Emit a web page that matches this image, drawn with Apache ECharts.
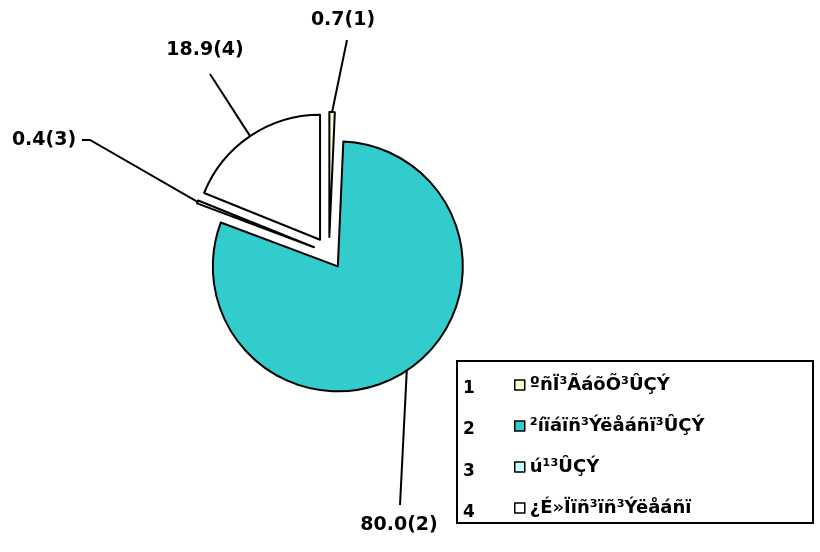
<!DOCTYPE html>
<html>
<head>
<meta charset="utf-8">
<script src="https://cdn.jsdelivr.net/npm/echarts@6/dist/echarts.min.js"></script>
<style>html,body{margin:0;padding:0;background:#fff}#c{width:820px;height:552px}</style>
</head>
<body>
<div id="c"></div>
<script>
const categories = ["ºñÏ³ÃáõÕ³ÛÇÝ", "²íïáïñ³Ýëåáñï³ÛÇÝ", "ú¹³ÛÇÝ", "¿É»Ïïñ³ïñ³Ýëåáñï"];
const indexLabels = ["1", "2", "3", "4"];
const values = [0.7, 80.0, 0.4, 18.9];
const colors = ["#FFFFCC", "#33CCCC", "#CCFFFF", "#FFFFFF"];
// label placement (style only): label centre, and label-line bend/end offsets relative to it
const labelPos = [[343, 20], [399, 525], [44, 140], [205, 50]];
const lineBend = [[4, 20], [1, -20], [46, 0], [5, 24]];
const lineEnd = [[4, 20], [1, -20], [38, 0], [5, 24]];

const chart = echarts.init(document.getElementById('c'), null, {renderer: 'canvas'});
const font = '"DejaVu Sans", sans-serif';
const center = [329, 253];
const R = 125;
const explode = 16;
chart.setOption({
  animation: false,
  legend: {
    orient: 'vertical',
    left: 509,
    top: 371,
    itemGap: 23,
    itemWidth: 10,
    itemHeight: 10,
    icon: 'rect',
    selectedMode: false,
    itemStyle: {borderColor: '#000', borderWidth: 1.5},
    textStyle: {fontFamily: font, fontWeight: 'bold', fontSize: 18, color: '#000'},
    data: categories
  },
  graphic: [
    {type: 'rect', shape: {x: 457, y: 361, width: 356, height: 162}, style: {fill: 'none', stroke: '#000', lineWidth: 2}},
    {type: 'group', children: indexLabels.map((t, i) => ({
      type: 'text', x: 463, y: 380 + i * 41.5,
      style: {text: t, font: 'bold 17px ' + font, fill: '#000'}
    }))}
  ],
  series: [{
    type: 'pie',
    center: center,
    radius: [0, R],
    startAngle: 90,
    clockwise: true,
    selectedMode: 'multiple',
    selectedOffset: explode,
    itemStyle: {borderColor: '#000', borderWidth: 2},
    emphasis: {disabled: true},
    label: {show: false},
    labelLine: {show: false},
    data: categories.map((c, i) => ({name: c, value: values[i], selected: true, itemStyle: {color: colors[i]}}))
  }, {
    type: 'pie',
    center: center,
    radius: [0, R + explode],
    startAngle: 90,
    clockwise: true,
    silent: true,
    selectedMode: false,
    avoidLabelOverlap: false,
    itemStyle: {color: 'rgba(0,0,0,0)', borderWidth: 0},
    emphasis: {disabled: true},
    label: {
      show: true, position: 'outside',
      formatter: p => p.value.toFixed(1) + '(' + (p.dataIndex + 1) + ')',
      fontFamily: font, fontWeight: 'bold', fontSize: 19, color: '#000'
    },
    labelLine: {show: true, length: 20, length2: 20, lineStyle: {color: '#000', width: 2}},
    labelLayout: p => {
      const i = p.dataIndex;
      const c = labelPos[i];
      const start = p.labelLinePoints ? p.labelLinePoints[0] : c;
      return {
        x: c[0], y: c[1], align: 'center', verticalAlign: 'middle',
        labelLinePoints: [start, [c[0] + lineBend[i][0], c[1] + lineBend[i][1]], [c[0] + lineEnd[i][0], c[1] + lineEnd[i][1]]]
      };
    },
    data: categories.map((c, i) => ({name: c, value: values[i]}))
  }]
});
</script>
</body>
</html>
